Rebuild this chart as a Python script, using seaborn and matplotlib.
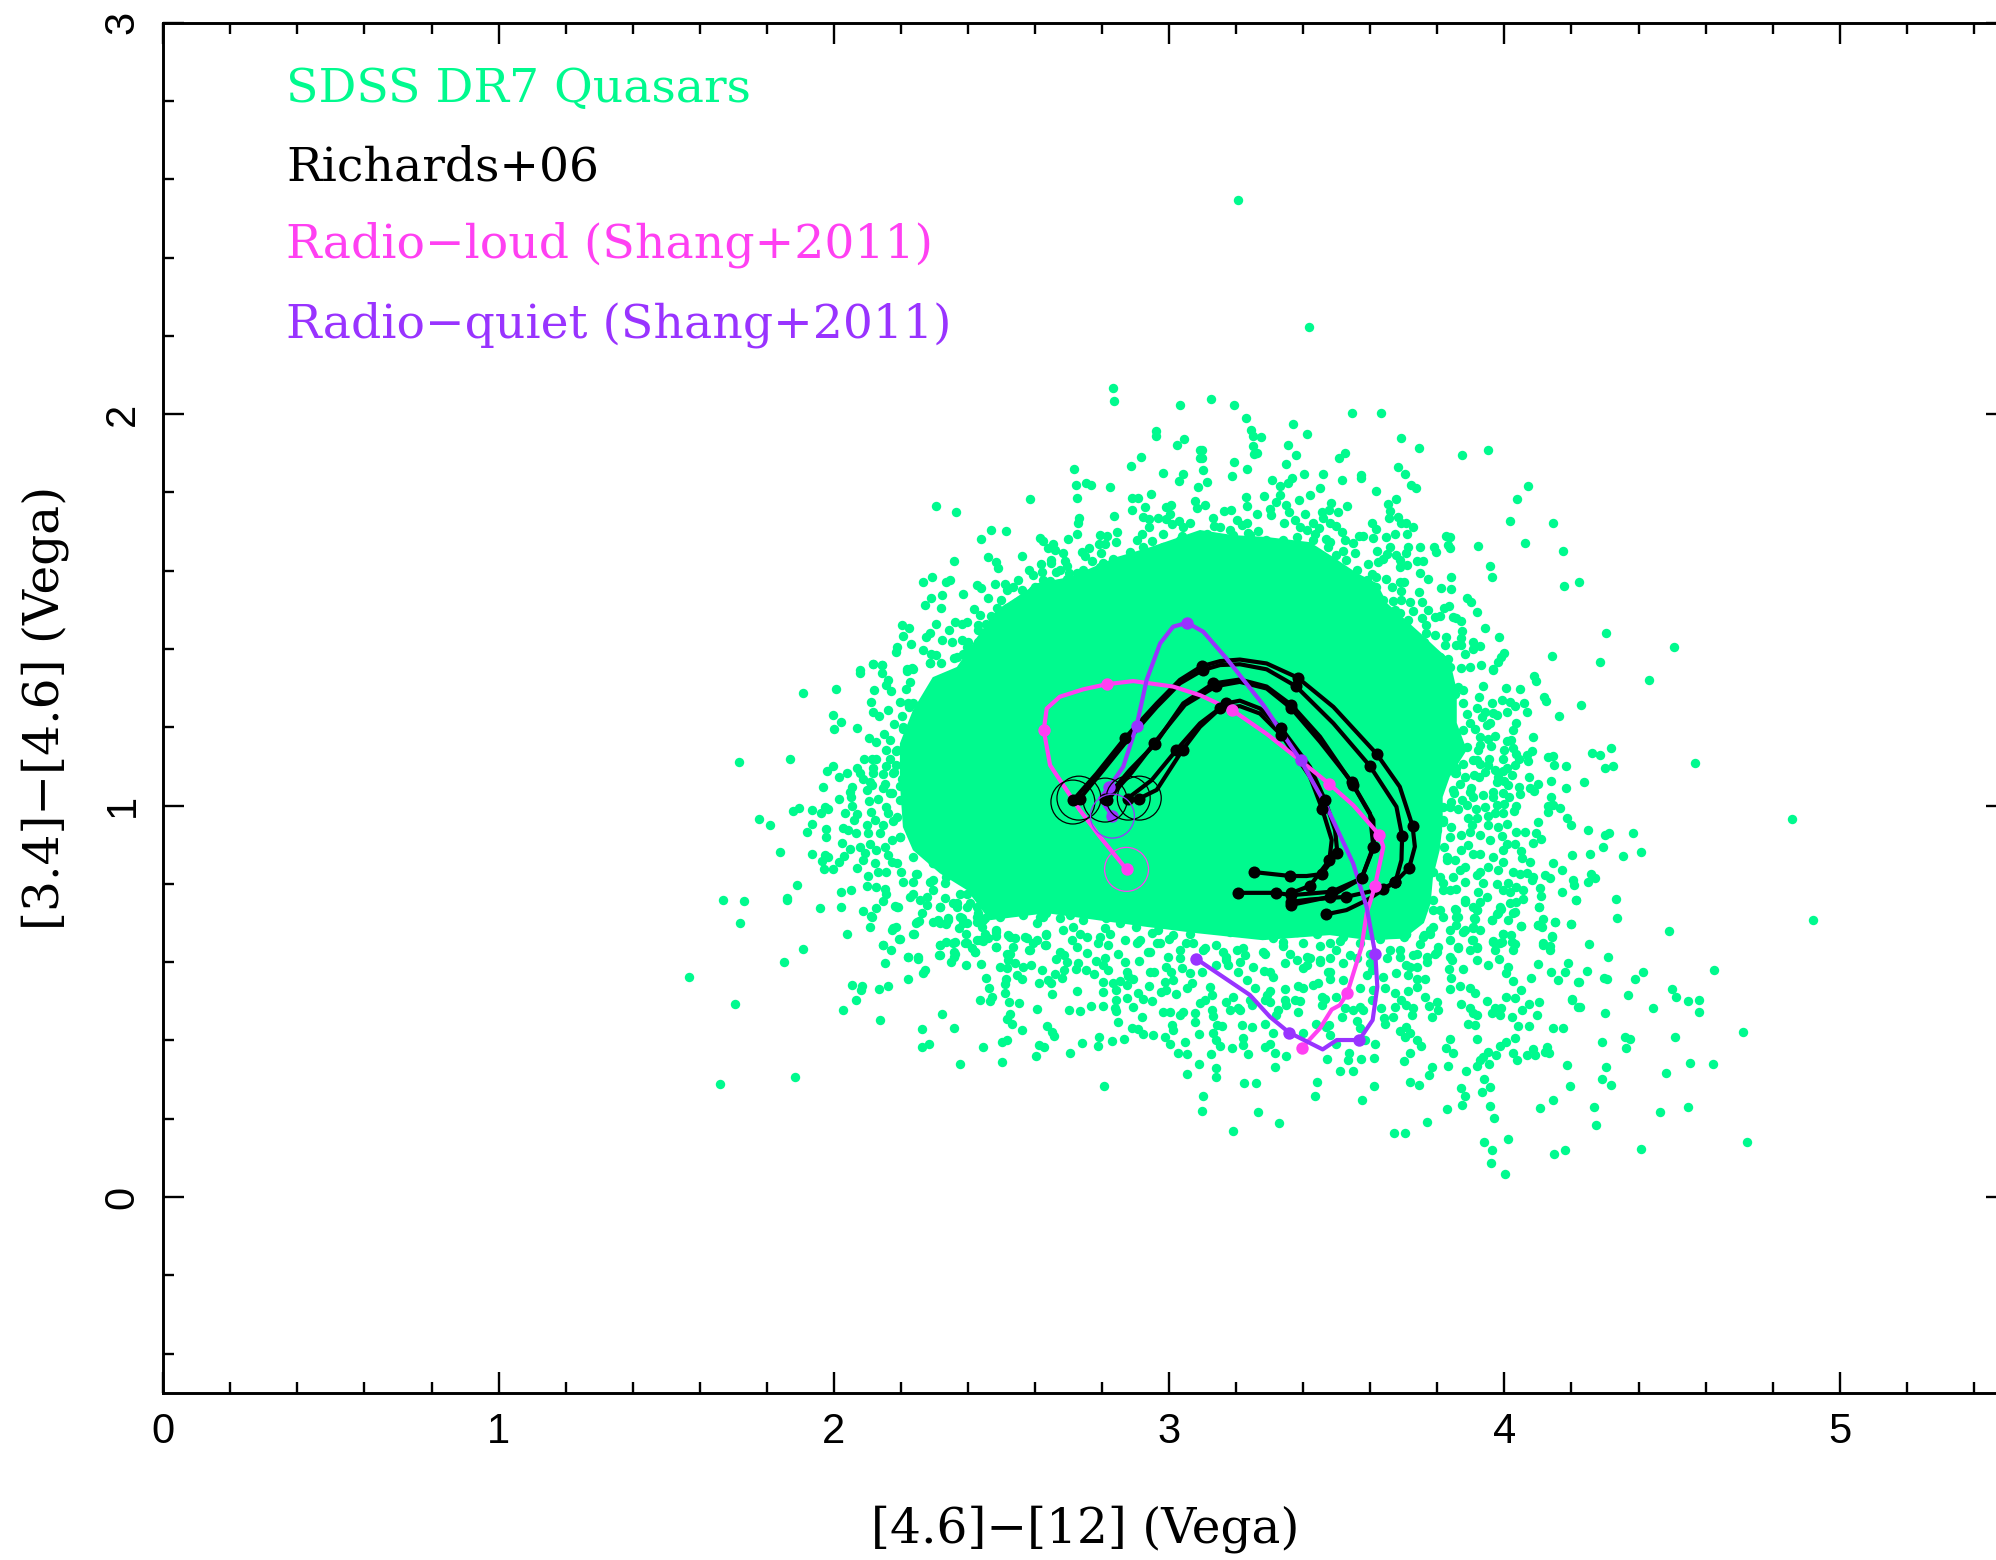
import numpy as np
import pandas as pd
import matplotlib
matplotlib.use("Agg")
import matplotlib.pyplot as plt
from matplotlib.ticker import MultipleLocator
import seaborn as sns

# Quasars, one list per part of the cloud: (x, y)
bottom_left = [
    (1.569,.563),(1.660,.288),(1.883,.306),(1.705,.494),(1.721,.699),(1.670,.759),(1.732,.756),(1.860,.758),
    (1.850,.601),(1.907,.633),(1.958,.738),(2.021,.742),(2.040,.673),(2.086,.731),(2.112,.717),(2.125,.739),
    (2.108,.689),(2.148,.643),(2.169,.631),(2.184,.690),(2.173,.682),(2.194,.658),(2.182,.743),(2.192,.740),
    (2.147,.756),(2.239,.673),(2.245,.699),(2.255,.705),(2.222,.612),(2.251,.608),(2.154,.598),(2.272,.581),
    (2.265,.573),(2.222,.558),(2.055,.541),(2.085,.539),(2.081,.529),(2.135,.532),(2.163,.539),(2.065,.504),
    (2.026,.478),(2.137,.452),(2.323,.467),(2.263,.430),(2.358,.431),(2.262,.383),(2.285,.391),(2.375,.340),
    (2.445,.382),(2.502,.345),(2.502,.397),(2.515,.400),(2.562,.427),(2.603,.361),(2.613,.389),(2.628,.383),
    (2.636,.437),(2.652,.422),(2.658,.411),(2.705,.367),(2.739,.394),(2.787,.386),(2.790,.409),(2.830,.398),
    (2.866,.403),(2.805,.284),(2.606,.480),(2.701,.477),(2.735,.475),(2.767,.487),(2.802,.487),(2.838,.484),
    (2.841,.474),(2.849,.448),(2.843,.503),(2.874,.509),(2.802,.523),(2.724,.527),(2.651,.518),(2.802,.550),
    (2.841,.530),(2.833,.546),(2.853,.552),(2.873,.541),(2.613,.546),(2.639,.554),(2.649,.546),(2.680,.560),
    (2.659,.569),(2.777,.570),(2.620,.580),(2.686,.581),(2.722,.582),(2.729,.597),(2.752,.581),(2.817,.581),
    (2.803,.593),(2.873,.575),(2.878,.564),(2.868,.601),(2.782,.604),(2.810,.610),(2.562,.557),(2.545,.567),
    (2.587,.592),(2.565,.588),(2.540,.597),(2.520,.605),(2.515,.584),(2.497,.587),(2.455,.560),(2.439,.596),
    (2.393,.593),(2.349,.600),(2.315,.618),(2.359,.627),(2.358,.614),(2.510,.543),(2.513,.557),(2.462,.533),
    (2.510,.521),(2.471,.511),(2.467,.500),(2.436,.504),(2.522,.498),(2.552,.495),(2.525,.467),(2.515,.454),
    (2.531,.442),(2.484,.639),(2.421,.627),(2.411,.635),(2.391,.648),(2.361,.652),(2.336,.652),(2.316,.644),
    (2.582,.630),(2.631,.643),(2.634,.672),(2.525,.622),(2.535,.639),(2.605,.656),(2.593,.648),(2.575,.661),
    (2.540,.661),(2.520,.669),(2.485,.667),(2.483,.678),(2.460,.661),(2.444,.655),(2.428,.656),(2.394,.671),
    (2.311,.707),(2.296,.702),(2.336,.697),(2.339,.712),(2.373,.686),(2.396,.699),(2.381,.712),(2.264,.726),
    (2.451,.714),(2.431,.725),(2.441,.691),(2.426,.703),(2.451,.673),(2.277,.746),(2.316,.742),(2.366,.742),
    (2.406,.750),(2.446,.754),(2.495,.742),(2.535,.746),(2.585,.746),(2.634,.750),(2.684,.746),(2.724,.750),
    (2.774,.742),(2.833,.733),(2.873,.733),(2.495,.716),(2.565,.720),(2.615,.716),(2.634,.725),(2.674,.712),
    (2.704,.720),(2.744,.707),(2.813,.712),(2.853,.699),(2.684,.682),(2.714,.690),(2.734,.673),(2.754,.665),
    (2.709,.656),(2.724,.639),(2.664,.609),(2.674,.625),(2.686,.618),(2.694,.601),(2.754,.623),(2.789,.650),
    (2.819,.644),(2.848,.622),(2.868,.656),(2.794,.665),(2.824,.673),(2.809,.686),
    (2.296,.852),(2.247,.826),(2.237,.775),(2.296,.809),(2.331,.801),(2.277,.767),(2.316,.741),(2.356,.750),
    (2.396,.741),(2.426,.716),(2.386,.699),(2.446,.707),(2.485,.682),(2.525,.665),(2.570,.665),(2.625,.716),
    (2.605,.699),(2.634,.669),(2.316,.699),(2.341,.707),(2.376,.716),(2.237,.673),(2.247,.703),(2.177,.686),
    (2.187,.741),(2.113,.716),(2.147,.643),(2.197,.658),(2.316,.643),(2.356,.648),(2.396,.648),(2.436,.656),
    (2.485,.639),(2.515,.622),(2.585,.631),(2.634,.643),(2.361,.622),(2.316,.618),(2.421,.626),(2.222,.614),
    (2.252,.614),
]
bottom_right = [
    (4.003,.059),(3.959,.087),(3.962,.120),(3.938,.141),(4.012,.148),(4.149,.110),(4.181,.120),(3.705,.164),
    (3.672,.164),(3.768,.191),(3.969,.203),(3.956,.233),(3.830,.226),(3.874,.236),(3.882,.259),(3.872,.279),
    (3.933,.267),(3.956,.282),(3.938,.301),(4.107,.228),(4.146,.248),(4.197,.284),(4.187,.338),(3.575,.248),
    (3.611,.283),(3.717,.293),(3.744,.285),(3.775,.311),(3.783,.333),(3.885,.323),(3.832,.335),(3.919,.334),
    (3.955,.341),(3.927,.350),(3.937,.358),(3.952,.371),(3.976,.362),(3.986,.386),(4.006,.397),(4.032,.405),
    (4.026,.369),(4.037,.351),(4.066,.362),(4.086,.377),(4.091,.362),(4.121,.371),(4.128,.384),(4.134,.368),
    (3.827,.381),(3.847,.368),(3.837,.403),(3.917,.403),(4.074,.437),(4.040,.438),(4.024,.460),(4.146,.432),
    (4.174,.431),(4.097,.464),(4.053,.478),(4.074,.493),(4.104,.498),(4.203,.505),(4.220,.486),(4.031,.509),
    (4.004,.512),(4.049,.528),(3.947,.500),(3.962,.469),(3.972,.482),(3.986,.465),(3.991,.482),(3.892,.443),
    (3.912,.439),(3.917,.465),(3.897,.484),(3.907,.469),(3.872,.494),(3.913,.520),(3.897,.535),(3.867,.539),
    (3.837,.532),(3.842,.560),(4.079,.560),(4.026,.552),(4.159,.555),(4.140,.575),(4.181,.575),(4.190,.597),
    (4.220,.550),(4.101,.594),(4.004,.571),(4.011,.588),(3.877,.582),(3.834,.582),(3.952,.592),(3.917,.605),
    (3.983,.609),(4.026,.631),(4.022,.652),(3.967,.652),(3.972,.631),(3.994,.652),(4.103,.742),(4.150,.703),
    (4.200,.697),(4.101,.695),(4.051,.692),(4.141,.665),(4.116,.648),(4.136,.631),(4.213,.759),(3.962,.707),
    (4.026,.725),(3.991,.737),(3.981,.725),(3.917,.733),(3.910,.712),(3.882,.754),(3.857,.733),(3.862,.716),
    (3.837,.682),(3.877,.678),(3.907,.686),(3.996,.673),(3.905,.656),(3.917,.635),(3.897,.631),(3.845,.605),
    (3.862,.635),(3.793,.622),(3.803,.639),(3.837,.656),
    (3.054,.313),(3.141,.307),(3.139,.330),(3.088,.341),(3.222,.292),(3.259,.290),(3.101,.259),(3.097,.220),
    (3.266,.218),(3.191,.169),(3.328,.190),(3.435,.259),(3.440,.295),(3.316,.332),(3.509,.322),(3.547,.321),
    (3.472,.352),(3.534,.350),(3.536,.369),(3.573,.353),(3.612,.355),(3.701,.348),(3.718,.367),(3.027,.368),
    (3.052,.366),(3.125,.366),(3.002,.390),(2.989,.408),(3.047,.397),(2.953,.414),(2.923,.417),(2.908,.428),
    (2.888,.431),(3.090,.417),(3.012,.426),(3.009,.439),(3.132,.418),(3.139,.401),(3.153,.386),(3.189,.380),
    (3.219,.388),(3.221,.407),(3.236,.366),(3.246,.434),(3.216,.439),(3.159,.438),(3.144,.439),(3.286,.384),
    (3.301,.391),(3.317,.367),(3.350,.361),(3.310,.418),(3.286,.443),(3.400,.418),(3.437,.443),(3.479,.415),
    (3.469,.435),(3.476,.439),(3.569,.432),(3.559,.450),(3.614,.392),(3.584,.401),(3.499,.390),(3.688,.425),
    (3.708,.435),(3.703,.409),(3.718,.420),(3.740,.401),(3.750,.386),(3.641,.456),(3.645,.443),(3.668,.460),
    (3.723,.465),(3.728,.482),(3.783,.460),(3.803,.478),(3.776,.488),(3.798,.499),(3.763,.510),(3.673,.486),
    (3.708,.490),(3.693,.503),(3.673,.520),(3.713,.527),(3.633,.482),(3.569,.486),(3.549,.478),(3.579,.478),
    (3.524,.482),(3.516,.460),(3.604,.503),(3.609,.529),(3.643,.533),(3.455,.512),(3.465,.507),(3.499,.512),
    (3.455,.490),(3.385,.473),(3.375,.503),(3.390,.500),(3.345,.503),(3.350,.490),(3.325,.478),(3.320,.465),
    (3.291,.516),(3.301,.527),(3.286,.503),(3.301,.499),(3.345,.531),(3.400,.535),(3.385,.540),(3.430,.541),
    (3.445,.547),(3.475,.575),(3.479,.558),(3.519,.554),(3.569,.533),(3.589,.567),(3.604,.580),(3.678,.571),
    (3.738,.558),(3.763,.558),(3.738,.537),(3.713,.567),(3.718,.588),(3.231,.554),(3.256,.533),(3.241,.503),
    (3.191,.511),(3.171,.499),(3.206,.482),(3.181,.477),(3.246,.490),(3.211,.477),(3.122,.537),(3.127,.516),
    (3.107,.503),(3.092,.495),(3.127,.478),(3.132,.462),(3.077,.469),(3.077,.448),(3.042,.473),(3.032,.465),
    (3.002,.473),(2.982,.473),(2.920,.460),(2.893,.486),(2.948,.500),(2.923,.505),(2.908,.520),(2.977,.524),
    (2.992,.530),(3.022,.518),(3.054,.533),(3.067,.546),(2.940,.540),(2.893,.558),(3.012,.554),(2.987,.550),
    (2.955,.575),(3.007,.575),(2.910,.603),(2.908,.652),(2.938,.627),(2.963,.648),(2.997,.614),(3.032,.610),
    (3.062,.571),(3.097,.575),(3.139,.592),(3.176,.592),(3.206,.575),(3.251,.588),(3.284,.578),(3.310,.563),
    (3.345,.597),(3.400,.584),(3.380,.605),(3.450,.601),(3.479,.610),(3.420,.610),(3.519,.597),(3.560,.610),
    (3.600,.620),(3.650,.610),(3.690,.630),(3.740,.620),(3.770,.600),(3.100,.630),(3.160,.625),(3.220,.635),
    (3.280,.625),(3.340,.640),(3.400,.650),(3.450,.640),(3.510,.655),(3.570,.650),(3.630,.660),(3.700,.665),
    (3.760,.670),(3.050,.650),(3.000,.660),(2.950,.675),(2.900,.690),
    (2.903,.648),(2.943,.627),(2.972,.648),(3.032,.631),(3.072,.648),(3.107,.635),(3.141,.644),(3.171,.614),
    (3.201,.631),(3.226,.618),(3.286,.622),(3.340,.652),(3.360,.622),(3.410,.614),(3.450,.605),(3.499,.631),
    (3.539,.618),(3.658,.631),(3.688,.614),(3.728,.618),(3.768,.614),(3.798,.627),(3.837,.614),(2.913,.656),
    (2.967,.682),(3.012,.669),(3.062,.673),(3.122,.686),(3.181,.678),(3.231,.682),(3.281,.673),(3.310,.661),
    (3.380,.678),(3.440,.673),(3.479,.648),(3.519,.665),(3.648,.673),(3.708,.673),(3.758,.665),(3.778,.682),
    (2.943,.575),(2.992,.588),(3.037,.584),(3.171,.605),(3.211,.601),(3.301,.575),(3.410,.592),(3.479,.575),
    (3.599,.597),(3.638,.563),(3.708,.592),(3.738,.588),
]
top_left = [
    (3.204,2.546),(3.417,2.222),(2.833,2.067),(2.835,2.033),(3.033,2.023),(2.960,1.957),(2.960,1.945),(3.043,1.936),
    (3.024,1.920),(2.915,1.890),(2.887,1.867),(2.717,1.861),(2.722,1.819),(2.751,1.823),(2.766,1.819),(2.824,1.813),
    (2.983,1.850),(3.042,1.848),(3.029,1.829),(2.586,1.783),(2.726,1.785),(2.888,1.785),(2.908,1.787),(2.947,1.797),
    (2.888,1.754),(2.929,1.763),(2.306,1.765),(2.363,1.750),(2.837,1.740),(2.732,1.735),(2.729,1.721),(2.923,1.738),
    (2.940,1.731),(2.941,1.712),(2.968,1.735),(2.992,1.763),(3.007,1.769),(3.004,1.744),(2.992,1.731),(3.010,1.719),
    (3.030,1.728),(3.077,1.777),(3.082,1.759),(3.087,1.814),(3.092,1.908),(3.092,1.889),(2.982,1.695),(2.920,1.694),
    (2.949,1.676),(2.846,1.700),(2.793,1.691),(2.815,1.688),(2.791,1.668),(2.808,1.668),(2.724,1.694),(2.697,1.681),
    (2.843,1.674),(2.798,1.646),(2.905,1.678),(3.037,1.689),(3.062,1.721),(3.042,1.711),(2.470,1.704),(2.513,1.701),
    (2.438,1.682),(2.614,1.684),(2.624,1.676),(2.654,1.668),(2.639,1.659),(2.659,1.653),(2.684,1.646),(2.761,1.659),
    (2.739,1.648),(2.749,1.637),(2.562,1.637),(2.461,1.636),(2.485,1.623),(2.490,1.606),(2.359,1.625),(2.617,1.616),
    (2.649,1.627),(2.649,1.619),(2.689,1.625),(2.694,1.612),(2.771,1.625),(2.803,1.620),(2.583,1.602),(2.595,1.589),
    (2.622,1.596),(2.674,1.602),(2.664,1.596),(2.702,1.595),(2.726,1.593),(2.293,1.585),(2.265,1.572),(2.336,1.572),
    (2.347,1.576),(2.426,1.563),(2.440,1.556),(2.481,1.567),(2.510,1.567),(2.548,1.576),(2.624,1.576),(2.644,1.573),
    (2.669,1.566),(2.709,1.559),(2.560,1.550),(2.535,1.559),(2.515,1.550),(2.600,1.559),(2.322,1.538),(2.386,1.540),
    (2.289,1.530),(2.273,1.512),(2.321,1.504),(2.460,1.530),(2.500,1.525),(2.535,1.512),(2.545,1.519),(2.418,1.502),
    (2.436,1.487),(2.488,1.504),(2.470,1.484),(2.614,1.525),(2.202,1.462),(2.225,1.454),(2.304,1.465),(2.361,1.470),
    (2.396,1.470),(2.381,1.465),(2.429,1.461),(2.455,1.465),(2.475,1.470),(2.344,1.448),(2.286,1.440),(2.274,1.430),
    (2.205,1.433),(2.230,1.414),(2.323,1.423),(2.351,1.417),(2.383,1.424),(2.399,1.417),(2.431,1.448),(2.431,1.418),
    (2.457,1.440),(2.187,1.404),(2.184,1.392),(2.266,1.397),(2.289,1.387),(2.306,1.384),(2.286,1.363),(2.386,1.387),
    (2.358,1.376),(2.321,1.363),(2.118,1.362),(2.144,1.360),(2.232,1.352),(2.217,1.348),(2.078,1.346),(2.420,1.400),
    (2.400,1.370),
]
top_right = [
    (3.126,2.038),(3.193,2.023),(3.230,1.991),(3.244,1.959),(3.249,1.945),(3.274,1.942),(3.369,1.976),(3.410,1.948),
    (3.544,2.004),(3.631,2.004),(3.693,1.939),(3.746,1.913),(3.874,1.895),(3.952,1.908),(3.251,1.918),(3.253,1.898),
    (3.263,1.900),(3.355,1.920),(3.379,1.895),(3.526,1.900),(3.507,1.888),(3.193,1.878),(3.348,1.872),(3.232,1.859),
    (3.188,1.843),(3.683,1.866),(3.703,1.848),(3.401,1.846),(3.459,1.848),(3.571,1.844),(3.573,1.836),(3.515,1.832),
    (3.308,1.832),(3.368,1.836),(3.355,1.823),(3.330,1.817),(3.720,1.818),(3.736,1.811),(4.069,1.816),(4.039,1.784),
    (3.450,1.811),(3.617,1.803),(3.330,1.793),(3.283,1.792),(3.230,1.788),(3.420,1.793),(3.387,1.780),(3.678,1.784),
    (3.319,1.775),(3.348,1.769),(3.232,1.765),(3.484,1.774),(3.531,1.766),(3.504,1.751),(3.477,1.755),(3.457,1.749),
    (3.652,1.771),(3.658,1.752),(3.657,1.735),(3.300,1.757),(3.303,1.742),(3.263,1.746),(3.358,1.751),(3.405,1.746),
    (3.107,1.769),(3.113,1.827),(3.100,1.857),(3.097,1.908),(3.097,1.889),(4.018,1.728),(4.144,1.723),(3.684,1.738),
    (3.693,1.722),(3.706,1.721),(3.726,1.712),(3.604,1.722),(3.616,1.706),(3.459,1.734),(3.479,1.723),(3.499,1.714),
    (3.517,1.698),(3.428,1.723),(3.448,1.708),(3.435,1.695),(3.343,1.721),(3.375,1.729),(3.390,1.712),(3.410,1.704),
    (3.266,1.702),(3.234,1.697),(3.216,1.717),(3.231,1.723),(3.163,1.752),(3.186,1.755),(3.131,1.735),(3.133,1.715),
    (3.181,1.704),(3.201,1.729),(4.061,1.670),(4.176,1.650),(3.922,1.664),(3.825,1.689),(3.837,1.685),(3.790,1.661),
    (3.797,1.647),(3.832,1.665),(3.837,1.659),(3.748,1.661),(3.709,1.694),(3.675,1.695),(3.648,1.687),(3.609,1.683),
    (3.577,1.689),(3.566,1.688),(3.658,1.661),(3.713,1.661),(3.620,1.650),(3.650,1.643),(3.526,1.678),(3.549,1.670),
    (3.554,1.644),(3.519,1.650),(3.469,1.681),(3.479,1.674),(3.678,1.640),(3.708,1.644),(3.688,1.627),(3.594,1.618),
    (3.624,1.623),(3.639,1.630),(3.738,1.625),(3.756,1.625),(3.688,1.610),(3.710,1.614),(3.748,1.593),(3.773,1.580),
    (3.840,1.585),(3.957,1.612),(3.963,1.585),(4.179,1.562),(4.223,1.572),(3.648,1.580),(3.604,1.591),(3.618,1.585),
    (3.688,1.572),(3.700,1.570),(3.666,1.559),(3.812,1.555),(3.842,1.552),(3.745,1.545),(3.691,1.547),(3.887,1.531),
    (3.899,1.521),(3.753,1.519),(3.718,1.519),(3.693,1.525),(3.668,1.523),(3.835,1.510),(3.819,1.504),(3.917,1.494),
    (3.773,1.499),(3.728,1.498),(3.688,1.493),(3.658,1.495),(3.807,1.484),(3.792,1.481),(3.847,1.481),(3.857,1.478),
    (3.872,1.472),(3.753,1.478),(3.713,1.474),(3.766,1.461),(3.688,1.461),(3.648,1.457),(3.943,1.453),(3.874,1.446),
    (3.985,1.431),(4.304,1.440),(3.792,1.435),(3.767,1.440),(3.760,1.418),(3.728,1.431),(3.827,1.430),(3.872,1.427),
    (3.872,1.410),(3.857,1.410),(3.822,1.410),(3.907,1.418),(3.927,1.408),(3.907,1.400),(3.998,1.390),(3.991,1.380),
    (3.981,1.367),(3.883,1.386),(4.143,1.382),(4.285,1.367),(3.832,1.374),(3.807,1.380),(3.777,1.384),(3.753,1.397),
    (3.930,1.360),(3.897,1.355),(3.870,1.352),(3.966,1.350),(3.723,1.367),(3.728,1.389),(3.698,1.431),(3.668,1.410),
    (3.827,1.363),(3.787,1.359),(3.753,1.359),(4.506,1.405),
]
left_side = [
    (1.909,1.288),(2.005,1.297),(2.078,1.339),(2.118,1.361),(2.144,1.360),(2.143,1.338),(2.219,1.344),(2.235,1.349),
    (2.287,1.363),(2.162,1.321),(2.157,1.308),(2.171,1.292),(2.119,1.295),(2.227,1.316),(2.215,1.299),(2.112,1.264),
    (2.196,1.264),(2.222,1.261),(2.224,1.252),(2.116,1.238),(2.135,1.229),(2.163,1.244),(2.204,1.229),(1.998,1.232),
    (2.022,1.213),(2.001,1.195),(2.068,1.198),(2.179,1.208),(2.150,1.184),(2.207,1.195),(2.106,1.172),(2.126,1.163),
    (2.167,1.167),(1.716,1.112),(1.870,1.120),(2.155,1.142),(2.184,1.140),(2.091,1.120),(2.113,1.120),(2.127,1.120),
    (2.167,1.120),(2.157,1.101),(2.186,1.104),(1.996,1.100),(1.980,1.088),(2.039,1.083),(2.014,1.072),(2.068,1.095),
    (2.078,1.082),(2.118,1.095),(2.116,1.084),(2.147,1.080),(2.180,1.085),(2.088,1.069),(1.967,1.047),(2.054,1.048),
    (2.048,1.035),(2.108,1.061),(2.113,1.052),(2.098,1.039),(2.152,1.056),(2.147,1.044),(2.202,1.069),(2.197,1.050),
    (2.016,1.017),(2.050,1.021),(2.133,1.018),(2.106,1.011),(2.172,1.031),(2.197,1.014),(1.897,.994),(1.879,.986),
    (1.934,.989),(1.974,.997),(1.984,.992),(1.963,.981),(2.054,.998),(2.032,.981),(2.068,.978),(2.061,.963),
    (2.112,.984),(2.124,.963),(2.157,.997),(2.162,.980),(1.778,.965),(1.811,.950),(1.934,.954),(1.920,.932),
    (1.976,.939),(1.977,.920),(2.026,.943),(2.043,.937),(2.066,.929),(2.098,.950),(2.101,.929),(2.147,.950),
    (2.177,.960),(2.137,.929),(2.023,.904),(2.048,.890),(2.078,.895),(2.108,.903),(2.127,.886),(2.152,.895),
    (2.172,.912),(2.197,.920),(1.839,.881),(1.936,.876),(1.973,.873),(1.983,.869),(1.966,.858),(1.970,.837),
    (1.996,.838),(2.015,.855),(2.029,.872),(2.068,.840),(2.088,.860),(2.093,.878),(2.122,.852),(2.162,.873),
    (2.172,.856),(2.187,.854),(2.103,.820),(2.132,.829),(2.157,.831),(2.200,.831),(2.245,.824),(1.889,.798),
    (1.859,.764),(2.098,.795),(2.127,.792),(2.152,.786),(2.157,.775),(2.022,.780),(2.050,.784),(2.207,.805),
    (2.237,.805),(2.287,.805),(2.227,.767),(2.257,.758),(2.297,.784),(2.331,.763),(2.366,.750),(2.396,.775),
    (2.446,.758),(2.485,.767),
]
right_side = [
    (4.431,1.320),(4.089,1.331),(4.094,1.319),(4.005,1.300),(4.048,1.297),(3.936,1.306),(3.967,1.346),(4.118,1.278),
    (4.123,1.268),(4.228,1.257),(4.162,1.228),(3.923,1.278),(3.877,1.295),(3.852,1.286),(3.964,1.262),(3.992,1.269),
    (4.017,1.265),(4.007,1.239),(4.033,1.254),(4.059,1.263),(4.068,1.240),(3.917,1.250),(3.942,1.239),(3.932,1.227),
    (3.977,1.231),(3.967,1.237),(4.036,1.210),(4.026,1.193),(3.957,1.212),(3.947,1.205),(3.897,1.211),(3.912,1.195),
    (3.927,1.174),(4.085,1.176),(3.972,1.177),(3.952,1.171),(3.960,1.152),(4.007,1.165),(4.021,1.167),(4.026,1.148),
    (3.922,1.141),(3.927,1.154),(4.000,1.141),(3.995,1.119),(4.083,1.139),(4.066,1.129),(4.069,1.113),(4.036,1.131),
    (4.031,1.104),(4.044,1.120),(4.318,1.146),(4.260,1.134),(4.285,1.129),(4.131,1.124),(4.144,1.126),(4.148,1.104),
    (4.185,1.102),(4.299,1.096),(4.325,1.100),(4.570,1.109),(3.955,1.120),(3.952,1.103),(3.972,1.092),(4.007,1.095),
    (3.997,1.089),(3.927,1.107),(3.907,1.116),(3.877,1.107),(3.857,1.095),(3.942,1.086),(3.910,1.078),(3.924,1.072),
    (3.882,1.073),(3.867,1.056),(3.852,1.082),(4.023,1.078),(3.982,1.073),(3.977,1.061),(3.999,1.063),(4.011,1.052),
    (4.074,1.073),(4.101,1.055),(4.076,1.045),(4.089,1.036),(4.044,1.048),(4.046,1.029),(4.140,1.063),(4.184,1.045),
    (4.238,1.061),(4.139,1.022),(3.997,1.032),(4.014,1.022),(3.967,1.035),(3.965,1.022),(3.900,1.046),(3.897,1.035),
    (3.907,1.022),(3.937,1.027),(3.849,1.033),(3.875,1.015),(3.887,1.001),(3.842,1.009),(3.818,.997),(4.036,.999),
    (4.028,.985),(3.999,1.005),(3.997,.980),(3.977,1.001),(3.972,.980),(3.952,.974),(4.131,.998),(4.131,.984),
    (4.166,.993),(4.146,1.001),(3.942,.997),(3.915,.990),(3.862,.992),(4.187,.969),(4.199,.950),(4.101,.957),
    (4.857,.966),(4.250,.938),(4.300,.924),(4.313,.930),(4.384,.929),(3.890,.967),(3.917,.967),(3.902,.950),
    (3.952,.950),(3.982,.946),(4.007,.952),(4.036,.933),(4.061,.933),(4.094,.930),(4.110,.914),(4.086,.905),
    (3.818,.958),(3.842,.946),(3.798,.937),(3.872,.924),(3.897,.933),(3.927,.924),(4.295,.895),(4.354,.872),
    (4.408,.881),(4.201,.874),(4.254,.877),(3.992,.923),(4.031,.903),(4.007,.903),(3.997,.886),(3.957,.912),
    (3.892,.900),(3.870,.886),(3.821,.895),(3.927,.877),(3.907,.877),(4.051,.884),(4.054,.867),(4.077,.855),
    (3.967,.869),(3.997,.856),(4.145,.854),(4.171,.835),(3.982,.835),(3.950,.843),(3.927,.831),(3.882,.843),
    (3.867,.835),(3.852,.860),(3.828,.860),(4.026,.831),(4.046,.826),(4.066,.828),(4.086,.818),(4.081,.809),
    (4.121,.822),(4.136,.815),(4.258,.824),(4.270,.815),(4.248,.804),(4.204,.809),(4.209,.798),(3.937,.803),
    (3.882,.805),(3.917,.822),(3.788,.831),(3.818,.801),(3.847,.818),(3.977,.799),(4.012,.801),(3.997,.784),
    (4.036,.791),(4.056,.784),(4.016,.780),(4.107,.789),(4.108,.768),(4.173,.780),(4.214,.759),(4.333,.762),
    (3.857,.788),(3.837,.784),(3.922,.779),(3.882,.758),(3.947,.767),(3.927,.754),(4.056,.761),(4.036,.754),
    (3.907,.741),(3.917,.733),(3.987,.741),(3.977,.724),(3.852,.737),(4.102,.741),(4.017,.750),(4.031,.728),
    (4.012,.707),(4.337,.713),(4.921,.707),(4.492,.680),(4.251,.646),(4.151,.703),(4.199,.697),(4.115,.709),
    (4.099,.694),(4.111,.690),(4.051,.692),(3.963,.707),(4.141,.666),(4.114,.644),(4.136,.641),(3.997,.673),
    (4.021,.669),(4.031,.647),(3.987,.649),(3.967,.654),(3.912,.711),(3.907,.690),(3.857,.716),(3.857,.694),
    (3.917,.639),(3.902,.656),(3.927,.681),(3.882,.681),(3.862,.639),(3.788,.758),(3.818,.716),(3.788,.690),
    (3.748,.716),(3.728,.750),(3.748,.647),(3.778,.673),(3.808,.733),(3.708,.673),(3.758,.741),
]
far_right = [
    (4.309,.612),(4.245,.578),(4.223,.550),(4.298,.560),(4.307,.556),(4.389,.558),(4.413,.576),(4.626,.581),
    (4.501,.532),(4.512,.512),(4.369,.515),(4.549,.500),(4.581,.503),(4.581,.473),(4.442,.483),(4.203,.504),
    (4.227,.486),(4.299,.471),(4.711,.422),(4.509,.410),(4.359,.409),(4.374,.403),(4.362,.381),(4.291,.396),
    (4.555,.342),(4.622,.339),(4.304,.332),(4.483,.316),(4.291,.301),(4.317,.285),(4.267,.231),(4.548,.231),
    (4.465,.218),(4.274,.183),(4.723,.141),(4.408,.123),
]
# dots along the rim of the solid part
rim = [
    (2.366,1.380),(2.396,1.406),(2.445,1.440),(2.480,1.478),(2.515,1.504),(2.555,1.525),(2.595,1.550),(2.644,1.568),
    (2.694,1.580),(2.744,1.602),(2.793,1.610),(2.833,1.631),(2.883,1.648),(2.923,1.661),(2.982,1.661),(3.032,1.678),
    (3.112,1.695),(3.151,1.712),(3.191,1.691),(3.241,1.691),(3.290,1.678),(3.340,1.678),(3.380,1.687),(3.430,1.678),
    (3.474,1.661),(3.499,1.640),(3.529,1.627),(3.559,1.602),(3.589,1.576),(3.618,1.559),(3.638,1.525),(3.673,1.499),
    (3.708,1.466),(3.738,1.431),(3.838,1.355),(3.862,1.303),(3.877,1.261),(3.887,1.235),(3.877,1.193),(3.887,1.150),
    (3.917,1.116),(3.857,1.082),(3.847,1.039),(3.837,.997),(3.818,.963),(3.837,.920),(3.828,.869),(3.808,.818),
    (3.818,.784),(3.788,.733),(2.237,1.261),(2.207,1.201),(2.187,1.142),(2.177,1.082),(2.167,1.031),(2.187,.971),
    (2.197,.920),(2.237,.869),(2.297,.852),(2.336,.818),(2.376,.775),(2.426,.741),
]

# outline of the part of the cloud that is solid colour
core_x = [2.295,2.367,2.427,2.486,2.546,2.606,2.704,2.773,2.844,2.943,3.092,3.190,3.292,3.420,3.489,3.560,3.620,3.650,
          3.750,3.800,3.837,3.858,3.858,3.888,3.837,3.816,3.816,3.807,3.787,3.780,3.760,3.700,3.598,3.479,3.279,3.082,
          2.933,2.635,2.465,2.397,2.316,2.236,2.206,2.197,2.197,2.236]
core_y = [1.328,1.354,1.430,1.500,1.533,1.568,1.584,1.609,1.635,1.660,1.704,1.691,1.686,1.673,1.635,1.594,1.568,1.517,
          1.440,1.400,1.372,1.295,1.211,1.142,1.073,1.022,.955,.886,.817,.750,.700,.660,.656,.669,.656,.674,
          .690,.725,.707,.784,.827,.886,.945,1.057,1.159,1.244]

# Richards+06 tracks, dots holds the indexes of the marked points
richards = [
    dict(x=[2.714,2.784,2.868,2.963,3.032,3.097,3.152,3.211,3.291,3.383,3.490,3.619,3.688,3.726,3.733,3.716,3.675,3.589,3.529,3.467],
         y=[1.014,1.082,1.172,1.261,1.321,1.356,1.369,1.373,1.363,1.327,1.252,1.132,1.048,.948,.895,.841,.805,.758,.733,.722],
         dots=[0,2,5,9,11,13,15,16,19]),
    dict(x=[2.734,2.804,2.868,2.963,3.032,3.100,3.152,3.211,3.291,3.378,3.490,3.599,3.678,3.695,3.693,3.675,3.639,3.529,3.420,3.363],
         y=[1.018,1.091,1.159,1.252,1.312,1.346,1.359,1.361,1.348,1.305,1.210,1.101,.997,.922,.861,.805,.788,.767,.760,.754],
         dots=[0,5,9,11,13,15,16,17,19]),
    dict(x=[2.809,2.883,2.958,3.042,3.132,3.211,3.291,3.365,3.450,3.549,3.609,3.611,3.574,3.485,3.365,3.320,3.204],
         y=[1.016,1.091,1.157,1.261,1.312,1.322,1.304,1.257,1.176,1.052,.963,.895,.814,.780,.771,.777,.777],
         dots=[0,2,4,7,9,11,12,13,14,15,16]),
    dict(x=[2.816,2.888,2.955,3.047,3.140,3.211,3.291,3.365,3.450,3.544,3.599,3.609,3.574,3.480,3.363],
         y=[1.014,1.084,1.159,1.257,1.305,1.316,1.299,1.248,1.163,1.061,.980,.895,.814,.767,.746],
         dots=[0,2,4,7,9,11,13,14]),
    dict(x=[2.876,2.948,3.022,3.092,3.171,3.211,3.271,3.335,3.420,3.465,3.495,3.502,3.455,3.410,3.362,3.254],
         y=[1.018,1.065,1.142,1.210,1.261,1.268,1.248,1.197,1.099,1.014,.937,.878,.825,.820,.820,.830],
         dots=[0,2,4,7,9,11,12,14,15]),
    dict(x=[2.911,2.963,3.040,3.092,3.152,3.211,3.271,3.335,3.420,3.457,3.485,3.478,3.420,3.363],
         y=[1.018,1.040,1.142,1.201,1.248,1.254,1.235,1.180,1.074,.990,.912,.861,.795,.776],
         dots=[0,2,4,7,9,11,12,13]),
]
richards_start_x = [2.713,2.731,2.809,2.878,2.911]
richards_start_y = [1.009,1.019,1.014,1.019,1.019]

loud_x = [2.873,2.794,2.734,2.645,2.626,2.635,2.674,2.744,2.814,2.893,3.012,3.092,3.188,3.291,3.390,3.478,3.549,3.627,3.639,3.614,3.589,3.574,3.531,3.509,3.485,3.450,3.395]
loud_y = [.837,.920,.988,1.103,1.193,1.248,1.278,1.297,1.310,1.318,1.304,1.282,1.244,1.183,1.116,1.055,1.001,.925,.895,.794,.724,.639,.520,.490,.479,.431,.380]
loud_dots = [0,4,8,12,15,17,19,22,26]

quiet_x = [2.831,2.794,2.822,2.863,2.903,2.933,2.973,3.012,3.054,3.102,3.171,3.281,3.392,3.470,3.549,3.589,3.615,3.621,3.607,3.567,3.500,3.458,3.358,3.301,3.241,3.080]
quiet_y = [.973,1.018,1.048,1.099,1.204,1.321,1.414,1.457,1.467,1.444,1.376,1.257,1.116,.997,.852,.741,.620,.537,.452,.401,.401,.377,.420,.460,.516,.609]
quiet_dots = [0,2,4,8,12,16,19,22,25]

legend_labels = ["SDSS DR7 Quasars", "Richards+06", "Radio\u2212loud (Shang+2011)", "Radio\u2212quiet (Shang+2011)"]
legend_y = [2.797, 2.598, 2.399, 2.197]

GREEN = "#00FA8E"
MAGENTA = "#FF40F2"
PURPLE = "#9933FF"
legend_colors = [GREEN, "black", MAGENTA, PURPLE]

sns.set_theme(style="white")
plt.rcParams["font.family"] = ["DejaVu Serif"]

W, H = 1996, 1560
fig = plt.figure(figsize=(W / 100, H / 100), dpi=100)
ax = fig.add_axes([163.3 / W, (H - 1392.7) / H, 1844 / W, 1370 / H])

ax.fill(core_x, core_y, color=GREEN, lw=0, zorder=1)

qso = pd.DataFrame(bottom_left + bottom_right + top_left + top_right + left_side + right_side + far_right + rim,
                   columns=["x", "y"])
sns.scatterplot(data=qso, x="x", y="y", color=GREEN, s=46, linewidth=0, ax=ax, zorder=2)


def track(x, y, dots, color, width=3.0, size=80):
    df = pd.DataFrame({"x": x, "y": y})
    sns.lineplot(data=df, x="x", y="y", sort=False, estimator=None, color=color, linewidth=width, ax=ax, zorder=3)
    sns.scatterplot(data=df.iloc[dots], x="x", y="y", color=color, s=size, linewidth=0, ax=ax, zorder=4)


for r in richards:
    track(r["x"], r["y"], r["dots"], "black", size=75)
track(loud_x, loud_y, loud_dots, MAGENTA)
track(quiet_x, quiet_y, quiet_dots, PURPLE)

# open circles on the starting points
sns.scatterplot(x=richards_start_x, y=richards_start_y, s=1000, facecolor="none", edgecolor="black",
                linewidth=0.9, ax=ax, zorder=4)
sns.scatterplot(x=[quiet_x[0]], y=[quiet_y[0]], s=1000, facecolor="none", edgecolor=PURPLE, linewidth=0.9, ax=ax, zorder=4)
sns.scatterplot(x=[loud_x[0]], y=[loud_y[0]], s=1000, facecolor="none", edgecolor=MAGENTA, linewidth=0.9, ax=ax, zorder=4)

for label, y, c in zip(legend_labels, legend_y, legend_colors):
    ax.text(0.367, y, label, color=c, fontsize=34, va="baseline", ha="left")

ax.set_xlim(0, 5.5)
ax.set_ylim(-0.5, 3)
ax.xaxis.set_major_locator(MultipleLocator(1))
ax.xaxis.set_minor_locator(MultipleLocator(0.2))
ax.yaxis.set_major_locator(MultipleLocator(1))
ax.yaxis.set_minor_locator(MultipleLocator(0.2))
ax.set_yticks([0, 1, 2, 3])
ax.tick_params(which="both", direction="in", top=True, right=True, bottom=True, left=True, color="black")
ax.tick_params(which="major", length=15, width=1.7, labelsize=30, labelcolor="black")
ax.tick_params(axis="x", which="major", pad=14)
ax.tick_params(axis="y", which="major", pad=15)
ax.tick_params(which="minor", length=8, width=1.7)
for t in ax.get_xticklabels() + ax.get_yticklabels():
    t.set_family("Liberation Sans")
for t in ax.get_yticklabels():
    t.set_rotation(90)
    t.set_va("center")
for s in ax.spines.values():
    s.set_linewidth(2.1)
    s.set_color("black")

ax.set_xlabel("[4.6]\u2212[12] (Vega)", fontsize=35, labelpad=38, color="black")
ax.set_ylabel("[3.4]\u2212[4.6] (Vega)", fontsize=35, labelpad=24, color="black")

fig.savefig("out.png", dpi=100, facecolor="white")
